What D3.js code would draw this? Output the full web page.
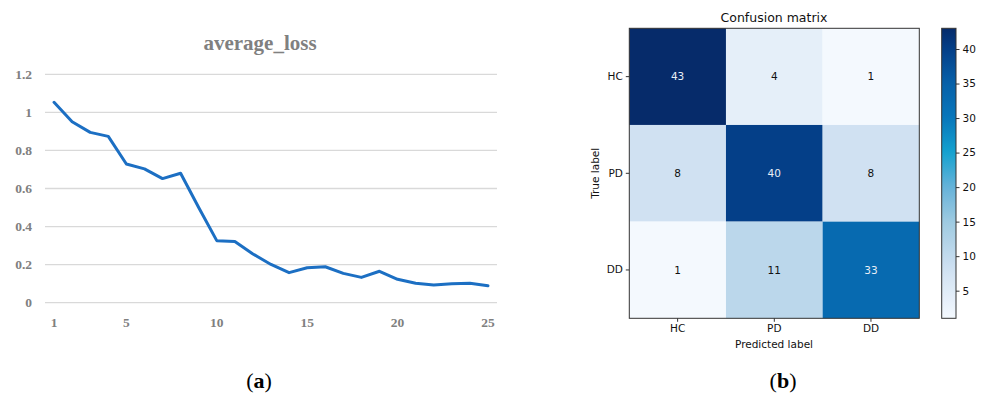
<!DOCTYPE html>
<html><head><meta charset="utf-8">
<script src="https://cdn.jsdelivr.net/npm/d3@7"></script>
<style>body{margin:0;background:#fff}svg{display:block}</style>
</head><body>
<svg id="c" width="982" height="396"></svg>
<script>
// ---- Data (a) ----
const epochs = d3.range(1, 26);
const avgLoss = [1.053,0.951,0.895,0.874,0.729,0.703,0.652,0.680,0.500,0.326,0.322,0.256,0.201,0.158,0.184,0.189,0.154,0.133,0.165,0.123,0.102,0.093,0.100,0.102,0.089];
const lossTicksY = [0,0.2,0.4,0.6,0.8,1,1.2];
const lossTicksX = [1,5,10,15,20,25];
// ---- Data (b) ----
const classes = ["HC","PD","DD"];
const matrix = [[43,4,1],[8,40,8],[1,11,33]];
const cbarTicks = [5,10,15,20,25,30,35,40];

const svg = d3.select("#c");

// ===== Panel (a) =====
const gA = svg.append("g");
const x = d3.scaleBand().domain(epochs).range([45, 497]);
const y = d3.scaleLinear().domain([0, 1.2]).range([302.7, 74.3]);
const serif = "'Liberation Serif','DejaVu Serif',serif";

gA.selectAll("line.grid").data(lossTicksY).join("line")
  .attr("x1", 45).attr("x2", 497)
  .attr("y1", d => y(d)).attr("y2", d => y(d))
  .attr("stroke", "#d9d9d9").attr("stroke-width", 1.3);

gA.selectAll("text.yt").data(lossTicksY).join("text")
  .attr("x", 32).attr("y", d => y(d) + 4.5)
  .attr("text-anchor", "end")
  .attr("font-family", serif).attr("font-weight", "bold").attr("font-size", 13.5)
  .attr("fill", "#808080").text(d => d);

gA.selectAll("text.xt").data(lossTicksX).join("text")
  .attr("x", d => x(d) + x.bandwidth()/2).attr("y", 327)
  .attr("text-anchor", "middle")
  .attr("font-family", serif).attr("font-weight", "bold").attr("font-size", 13.5)
  .attr("fill", "#808080").text(d => d);

gA.append("path")
  .datum(avgLoss)
  .attr("fill", "none").attr("stroke", "#1c6fc3").attr("stroke-width", 3)
  .attr("stroke-linejoin", "round").attr("stroke-linecap", "round")
  .attr("d", d3.line().x((d, i) => x(epochs[i]) + x.bandwidth()/2).y(d => y(d)));

gA.append("text").attr("x", 260).attr("y", 50).attr("text-anchor", "middle")
  .attr("font-family", serif).attr("font-weight", "bold").attr("font-size", 21)
  .attr("fill", "#808080").text("average_loss");

// ===== Panel (b) =====
const sans = "'DejaVu Sans',sans-serif";
const gB = svg.append("g");
const bx = d3.scaleBand().domain(classes).range([629.3, 919.3]);
const by = d3.scaleBand().domain(classes).range([28.3, 318.3]);
const vmin = d3.min(matrix.flat()), vmax = d3.max(matrix.flat());
const color = d3.scaleLinear()
  .domain([1, 8, 15, 20, 25, 30, 35, 40, 43])
  .range(["#f4f9fe", "#d0e1f2", "#9ecae1", "#66b3d9", "#14a2cf", "#0877bb", "#0761a9", "#043f88", "#062b6a"])
  .clamp(true);
const cells = [];
matrix.forEach((row, i) => row.forEach((v, j) => cells.push({r: classes[i], c: classes[j], v})));

gB.selectAll("rect.cell").data(cells).join("rect")
  .attr("x", d => bx(d.c)).attr("y", d => by(d.r))
  .attr("width", bx.bandwidth()).attr("height", by.bandwidth())
  .attr("fill", d => color(d.v));

gB.selectAll("text.cell").data(cells).join("text")
  .attr("x", d => bx(d.c) + bx.bandwidth()/2).attr("y", d => by(d.r) + by.bandwidth()/2 + 3.8)
  .attr("text-anchor", "middle").attr("font-family", sans).attr("font-size", 10.5)
  .attr("fill", d => d.v > (vmax / 2) ? "#e8eef6" : "#111").text(d => d.v);

gB.append("rect").attr("x", 629.3).attr("y", 28.3).attr("width", 290).attr("height", 290)
  .attr("fill", "none").attr("stroke", "#333").attr("stroke-width", 1);

// axes
const xAxis = d3.axisBottom(bx).tickSize(3.5).tickPadding(3);
const gx = gB.append("g").attr("transform", "translate(0,318.3)").call(xAxis);
const yAxis = d3.axisLeft(by).tickSize(3.5).tickPadding(3);
const gy = gB.append("g").attr("transform", "translate(629.3,0)").call(yAxis);
[gx, gy].forEach(g => {
  g.select(".domain").remove();
  g.selectAll(".tick line").attr("stroke", "#333");
  g.selectAll(".tick text").attr("font-family", sans).attr("font-size", 10.5).attr("fill", "#111");
});

gB.append("text").attr("x", 774).attr("y", 22).attr("text-anchor", "middle")
  .attr("font-family", sans).attr("font-size", 12.5).attr("fill", "#111").text("Confusion matrix");
gB.append("text").attr("x", 774).attr("y", 348).attr("text-anchor", "middle")
  .attr("font-family", sans).attr("font-size", 10.5).attr("fill", "#111").text("Predicted label");
gB.append("text").attr("transform", "translate(599,173.3) rotate(-90)").attr("text-anchor", "middle")
  .attr("font-family", sans).attr("font-size", 10.5).attr("fill", "#111").text("True label");

// colorbar
const cb = d3.scaleLinear().domain([vmin, vmax]).range([318.3, 28.3]);
const defs = svg.append("defs");
const grad = defs.append("linearGradient").attr("id", "cbg")
  .attr("x1", 0).attr("y1", 1).attr("x2", 0).attr("y2", 0);
d3.range(0, 1.0001, 0.02).forEach(t => {
  grad.append("stop").attr("offset", t).attr("stop-color", color(vmin + t * (vmax - vmin)));
});
gB.append("rect").attr("x", 941.7).attr("y", 28.3).attr("width", 14.3).attr("height", 290)
  .attr("fill", "url(#cbg)").attr("stroke", "#333").attr("stroke-width", 1);
const cAxis = d3.axisRight(cb).tickValues(cbarTicks).tickSize(3.5).tickPadding(3);
const gc = gB.append("g").attr("transform", "translate(956,0)").call(cAxis);
gc.select(".domain").remove();
gc.selectAll(".tick line").attr("stroke", "#333");
gc.selectAll(".tick text").attr("font-family", sans).attr("font-size", 10.5).attr("fill", "#111");

// captions
function caption(cx, letter) {
  const t = svg.append("text").attr("x", cx).attr("y", 388).attr("text-anchor", "middle")
    .attr("font-family", serif).attr("font-size", 22).attr("fill", "#000");
  t.append("tspan").text("(");
  t.append("tspan").attr("font-weight", "bold").text(letter);
  t.append("tspan").text(")");
}
caption(259, "a");
caption(783, "b");
</script>
</body></html>
